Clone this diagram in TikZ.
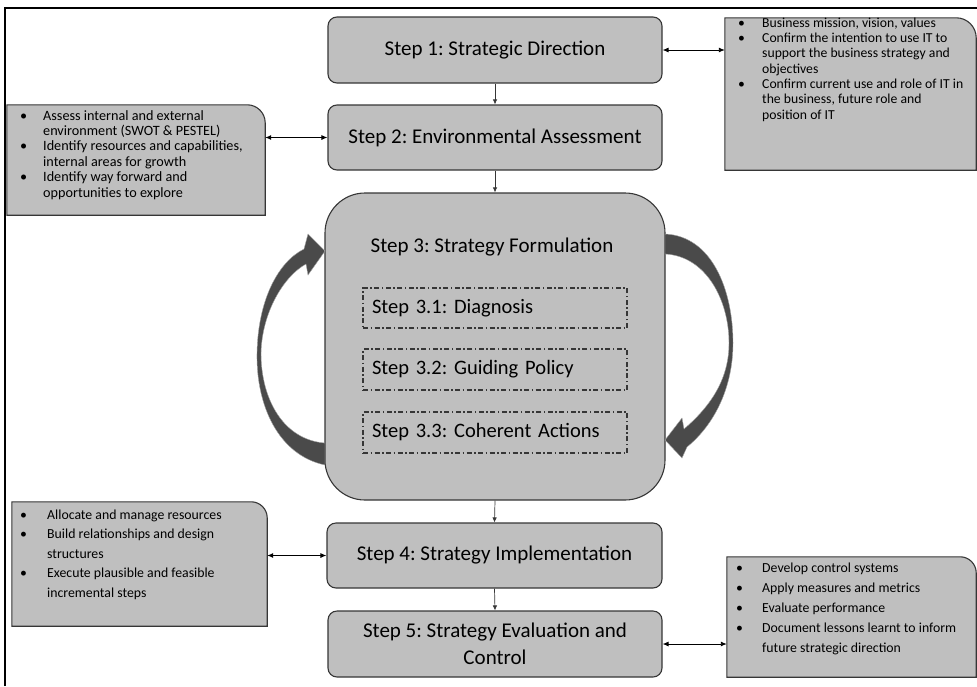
\documentclass[tikz,border=0pt]{standalone}
\usepackage{fontspec}
\setmainfont{Carlito}
\usetikzlibrary{arrows.meta,calc}
\definecolor{boxfill}{HTML}{BFBFBF}
\definecolor{boxline}{HTML}{363636}
\definecolor{arcfill}{HTML}{4A4A4A}
\frenchspacing
\begin{document}
\begin{tikzpicture}[x=1pt,y=-1pt,
  stepbox/.style={draw=boxline, fill=boxfill, line width=1.1pt, rounded corners=9pt,
    font=\fontsize{21}{27}\selectfont, align=center, inner sep=0pt},
  subbox/.style={draw=boxline, line width=1.1pt, dash pattern=on 5pt off 2.5pt on 1.5pt off 2.5pt,
    minimum width=264pt, text width=246pt, inner xsep=9pt, inner ysep=0pt, align=left,
    font=\fontsize{20.5}{25}\selectfont},
  sideframe/.style={shape=rectangle, inner sep=0pt},
  sidefill/.style={draw=boxline, fill=boxfill, line width=1.1pt},
  bultext/.style={anchor=base west, inner sep=0pt, align=left},
  flow/.style={draw=boxline, line width=0.7pt, -{Latex[length=5pt,width=4.5pt]}},
  dbl/.style={draw=black, line width=0.9pt, {Latex[length=6pt,width=5pt]}-{Latex[length=6pt,width=5pt]}},
  arc/.style={fill=arcfill, draw=gray!70, line width=0.4pt}
]
\useasboundingbox (0,0) rectangle (977,686);
% outer frame
\draw[line width=2.5pt, black] (5,686) -- (5,8) -- (977,8);

% main steps
\node[stepbox, minimum width=334pt, minimum height=66pt] (s1) at (495,50) {Step 1: Strategic Direction};
\node[stepbox, minimum width=334pt, minimum height=65pt] (s2) at (495,137.5) {Step 2: Environmental Assessment};
\node[stepbox, minimum width=340pt, minimum height=307pt, rounded corners=40pt] (s3) at (495,346.5) {};
\node[font=\fontsize{21}{25}\selectfont, inner sep=0pt] (t3) at (492,247) {Step 3: Strategy Formulation};
\node[subbox, minimum height=40pt] (d1) at (495,308) {Step 3.1: Diagnosis};
\node[subbox, minimum height=41pt] (d2) at (495,369.5) {Step 3.2: Guiding Policy};
\node[subbox, minimum height=41pt] (d3) at (495,432.5) {Step 3.3: Coherent Actions};
\node[stepbox, minimum width=335pt, minimum height=65pt] (s4) at (494.5,555.5) {Step 4: Strategy Implementation};
\node[stepbox, minimum width=334pt, minimum height=66pt] (s5) at (495,644) {Step 5: Strategy Evaluation and\\Control};

% side boxes (frames)
\node[sideframe, minimum width=258pt, minimum height=110pt] (L2) at (136,160) {};
\node[sideframe, minimum width=251pt, minimum height=152pt] (R1) at (850.5,94) {};
\node[sideframe, minimum width=255pt, minimum height=124pt] (L4) at (139.5,564) {};
\node[sideframe, minimum width=249pt, minimum height=120pt] (R5) at (851.5,617) {};
\foreach \b/\r in {L2/18,R1/20,L4/16,R5/16}{
  \draw[sidefill] (\b.south west) -- (\b.north west) -- ($(\b.north east)+(-\r,0)$)
    .. controls ($(\b.north east)+(-0.45*\r,0)$) and ($(\b.north east)+(0,0.45*\r)$) .. ($(\b.north east)+(0,\r)$)
    -- (\b.south east) -- cycle;
}

% side texts (anchored at the baseline of their last line)
\newcommand{\bu}[1]{\makebox[#1][l]{•}}
\node[bultext, font=\fontsize{13.7}{15.3}\selectfont] (R1t) at (738,119) {%
\bu{24pt}Business mission, vision, values\\
\bu{24pt}Confirm the intention to use IT to\\
\hspace*{24pt}support the business strategy and\\
\hspace*{24pt}objectives\\
\bu{24pt}Confirm current use and role of IT in\\
\hspace*{24pt}the business, future role and\\
\hspace*{24pt}position of IT};
\node[bultext, font=\fontsize{14.2}{15.4}\selectfont] (L2t) at (20,197) {%
\bu{23pt}Assess internal and external\\
\hspace*{23pt}environment (SWOT \& PESTEL)\\
\bu{23pt}Identify resources and capabilities,\\
\hspace*{23pt}internal areas for growth\\
\bu{23pt}Identify way forward and\\
\hspace*{23pt}opportunities to explore};
\node[bultext, font=\fontsize{13.8}{19.5}\selectfont] (L4t) at (20,597) {%
\bu{27pt}Allocate and manage resources\\
\bu{27pt}Build relationships and design\\
\hspace*{27pt}structures\\
\bu{27pt}Execute plausible and feasible\\
\hspace*{27pt}incremental steps};
\node[bultext, font=\fontsize{13.8}{20}\selectfont] (R5t) at (736,652) {%
\bu{26pt}Develop control systems\\
\bu{26pt}Apply measures and metrics\\
\bu{26pt}Evaluate performance\\
\bu{26pt}Document lessons learnt to inform\\
\hspace*{26pt}future strategic direction};

% flow arrows
\draw[flow] (s1.south) -- (s2.north);
\draw[flow] (s2.south) -- (s3.north);
\draw[flow] (s3.south) -- (s4.north);
\draw[flow] (s4.south) -- (s5.north);

% double arrows
\draw[dbl] (s1.east) -- (s1.east -| R1.west);
\draw[dbl] (L2.east |- s2.west) -- (s2.west);
\draw[dbl] (L4.east |- s4.west) -- (s4.west);
\draw[dbl] (s5.east) -- (s5.east -| R5.west);

% curved block arrows
\path[arc] (325,465) .. controls (278,455) and (256,405) .. (257,353)
  .. controls (258,300) and (278,262) .. (304,249)
  -- (308,234) -- (325,251) -- (308,275) -- (306,264)
  .. controls (284,276) and (262,312) .. (261,353)
  .. controls (261,400) and (284,440) .. (325,443) -- cycle;
\path[arc] (665,234) .. controls (712,236) and (733,290) .. (733,343)
  .. controls (733,388) and (714,425) .. (687,447)
  -- (682,458) -- (665,440) -- (682,418) -- (684,429)
  .. controls (712,405) and (729,378) .. (729,343)
  .. controls (729,300) and (706,256) .. (665,254) -- cycle;
\end{tikzpicture}
\end{document}
